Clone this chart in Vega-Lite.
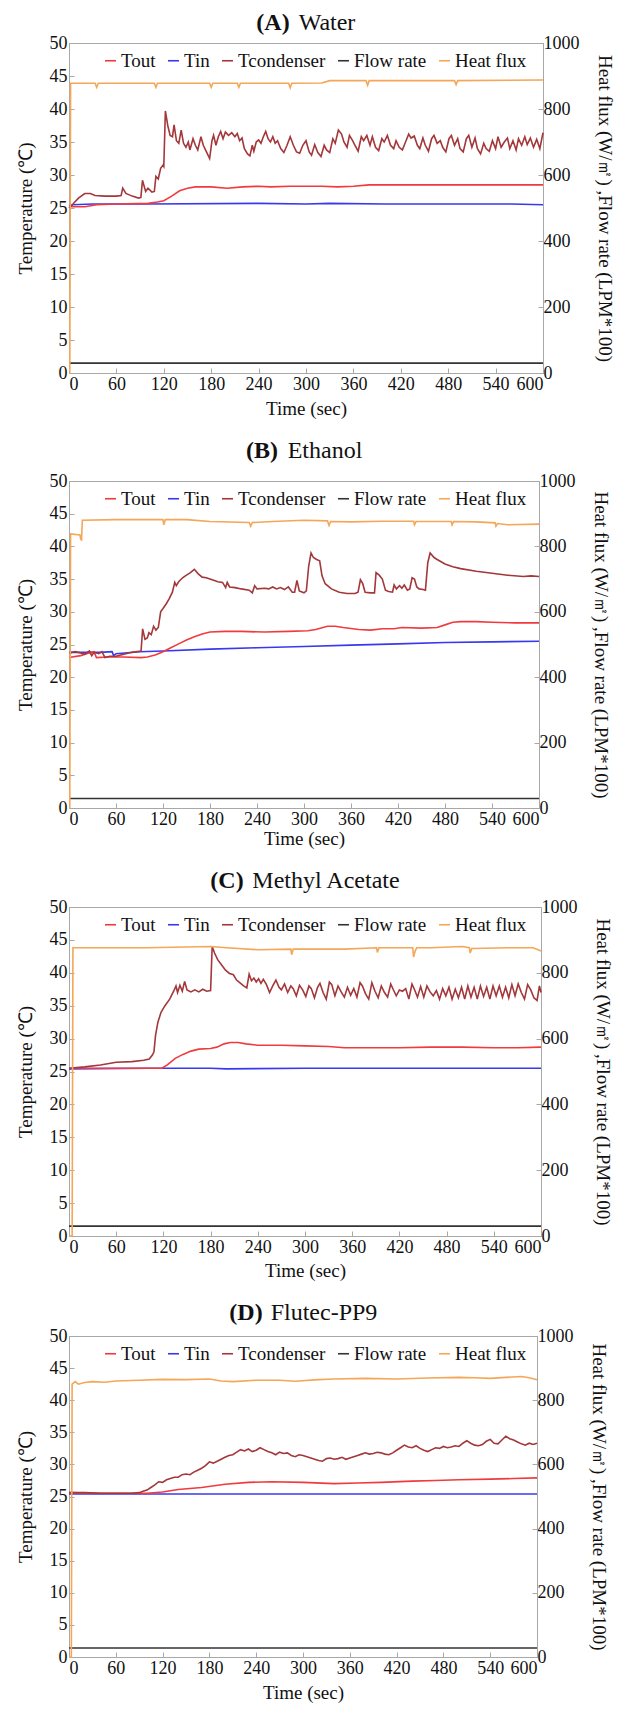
{
"$schema":"https://vega.github.io/schema/vega-lite/v6.json",
"padding":{"left":15,"top":10,"right":0,"bottom":0},
"spacing":19,
"config":{
 "font":"Liberation Serif, Times New Roman, serif",
 "view":{"stroke":"#a8a8a8"},
 "axis":{"grid":false,"domainColor":"#a8a8a8","tickColor":"#a8a8a8","tickSize":-5,"labelFont":"Liberation Serif, Times New Roman, serif","labelFontSize":18,"labelColor":"#111","titleFont":"Liberation Serif, Times New Roman, serif","titleFontSize":19,"titleFontWeight":"normal","titleColor":"#111","labelPadding":7},
 "legend":{"orient":"none","legendX":32,"legendY":8,"direction":"horizontal","title":null,"symbolType":"stroke","symbolStrokeWidth":2,"symbolSize":121,"labelFont":"Liberation Serif, Times New Roman, serif","labelFontSize":19,"labelColor":"#111","columnPadding":8,"labelOffset":1},
 "title":{"font":"Liberation Serif, Times New Roman, serif","fontSize":24,"fontWeight":"bold","color":"#111","subtitleFont":"Liberation Serif, Times New Roman, serif","subtitleFontSize":24,"subtitleFontWeight":"normal","subtitleColor":"#111","subtitlePadding":-24,"frame":"group"},
 "line":{"strokeWidth":1.6}
},
"resolve":{"scale":{"color":"independent"}},
"datasets":{
"A":[
{"t":0,"s":"Tin","v":25.3},{"t":5,"s":"Tin","v":25.5},{"t":30,"s":"Tin","v":25.6},{"t":100,"s":"Tin","v":25.6},{"t":240,"s":"Tin","v":25.7},{"t":300,"s":"Tin","v":25.6},{"t":330,"s":"Tin","v":25.7},{"t":400,"s":"Tin","v":25.6},{"t":560,"s":"Tin","v":25.6},{"t":600,"s":"Tin","v":25.5},
{"t":0,"s":"Tout","v":25.2},{"t":20,"s":"Tout","v":25.2},{"t":35,"s":"Tout","v":25.5},{"t":60,"s":"Tout","v":25.6},{"t":100,"s":"Tout","v":25.7},{"t":112,"s":"Tout","v":25.9},{"t":120,"s":"Tout","v":26.1},{"t":130,"s":"Tout","v":26.8},{"t":140,"s":"Tout","v":27.6},{"t":150,"s":"Tout","v":28.0},{"t":160,"s":"Tout","v":28.2},{"t":180,"s":"Tout","v":28.2},{"t":200,"s":"Tout","v":28.0},{"t":220,"s":"Tout","v":28.2},{"t":240,"s":"Tout","v":28.3},{"t":255,"s":"Tout","v":28.2},{"t":280,"s":"Tout","v":28.3},{"t":320,"s":"Tout","v":28.3},{"t":340,"s":"Tout","v":28.2},{"t":360,"s":"Tout","v":28.3},{"t":380,"s":"Tout","v":28.5},{"t":440,"s":"Tout","v":28.5},{"t":500,"s":"Tout","v":28.5},{"t":560,"s":"Tout","v":28.5},{"t":600,"s":"Tout","v":28.5},
{"t":0,"s":"Tcondenser","v":25.0},{"t":5,"s":"Tcondenser","v":25.6},{"t":12,"s":"Tcondenser","v":26.5},{"t":20,"s":"Tcondenser","v":27.2},{"t":27,"s":"Tcondenser","v":27.2},{"t":33,"s":"Tcondenser","v":26.9},{"t":45,"s":"Tcondenser","v":26.8},{"t":60,"s":"Tcondenser","v":26.8},{"t":66,"s":"Tcondenser","v":26.9},{"t":68,"s":"Tcondenser","v":28.0},{"t":72,"s":"Tcondenser","v":27.2},{"t":80,"s":"Tcondenser","v":26.8},{"t":88,"s":"Tcondenser","v":26.5},{"t":91,"s":"Tcondenser","v":26.6},{"t":93,"s":"Tcondenser","v":29.2},{"t":97,"s":"Tcondenser","v":27.5},{"t":100,"s":"Tcondenser","v":28.0},{"t":105,"s":"Tcondenser","v":27.4},{"t":108,"s":"Tcondenser","v":27.5},{"t":110,"s":"Tcondenser","v":29.8},{"t":113,"s":"Tcondenser","v":29.4},{"t":116,"s":"Tcondenser","v":31.0},{"t":119,"s":"Tcondenser","v":31.5},{"t":120,"s":"Tcondenser","v":31.3},{"t":122,"s":"Tcondenser","v":39.7},{"t":125,"s":"Tcondenser","v":37.5},{"t":128,"s":"Tcondenser","v":36.0},{"t":131,"s":"Tcondenser","v":35.8},{"t":133,"s":"Tcondenser","v":37.6},{"t":136,"s":"Tcondenser","v":35.2},{"t":139,"s":"Tcondenser","v":34.8},{"t":142,"s":"Tcondenser","v":36.8},{"t":145,"s":"Tcondenser","v":34.8},{"t":148,"s":"Tcondenser","v":34.2},{"t":151,"s":"Tcondenser","v":35.0},{"t":153,"s":"Tcondenser","v":33.8},{"t":157,"s":"Tcondenser","v":35.5},{"t":160,"s":"Tcondenser","v":34.5},{"t":163,"s":"Tcondenser","v":33.8},{"t":167,"s":"Tcondenser","v":35.8},{"t":170,"s":"Tcondenser","v":34.5},{"t":174,"s":"Tcondenser","v":33.5},{"t":178,"s":"Tcondenser","v":32.5},{"t":181,"s":"Tcondenser","v":35.2},{"t":183,"s":"Tcondenser","v":36.0},{"t":186,"s":"Tcondenser","v":34.5},{"t":189,"s":"Tcondenser","v":35.8},{"t":192,"s":"Tcondenser","v":36.6},{"t":195,"s":"Tcondenser","v":35.5},{"t":198,"s":"Tcondenser","v":36.5},{"t":202,"s":"Tcondenser","v":36.0},{"t":206,"s":"Tcondenser","v":36.4},{"t":210,"s":"Tcondenser","v":35.8},{"t":213,"s":"Tcondenser","v":36.3},{"t":216,"s":"Tcondenser","v":35.2},{"t":219,"s":"Tcondenser","v":35.6},{"t":222,"s":"Tcondenser","v":34.0},{"t":226,"s":"Tcondenser","v":33.2},{"t":229,"s":"Tcondenser","v":32.9},{"t":232,"s":"Tcondenser","v":34.5},{"t":234,"s":"Tcondenser","v":33.6},{"t":237,"s":"Tcondenser","v":35.0},{"t":240,"s":"Tcondenser","v":35.3},{"t":243,"s":"Tcondenser","v":34.8},{"t":246,"s":"Tcondenser","v":35.8},{"t":249,"s":"Tcondenser","v":36.6},{"t":252,"s":"Tcondenser","v":35.5},{"t":255,"s":"Tcondenser","v":35.0},{"t":258,"s":"Tcondenser","v":35.8},{"t":261,"s":"Tcondenser","v":34.8},{"t":264,"s":"Tcondenser","v":35.2},{"t":268,"s":"Tcondenser","v":34.0},{"t":272,"s":"Tcondenser","v":33.4},{"t":276,"s":"Tcondenser","v":34.5},{"t":280,"s":"Tcondenser","v":35.8},{"t":284,"s":"Tcondenser","v":34.5},{"t":288,"s":"Tcondenser","v":33.5},{"t":292,"s":"Tcondenser","v":33.3},{"t":296,"s":"Tcondenser","v":34.5},{"t":300,"s":"Tcondenser","v":35.2},{"t":304,"s":"Tcondenser","v":33.5},{"t":307,"s":"Tcondenser","v":33.0},{"t":311,"s":"Tcondenser","v":34.6},{"t":315,"s":"Tcondenser","v":33.4},{"t":319,"s":"Tcondenser","v":32.8},{"t":323,"s":"Tcondenser","v":34.5},{"t":326,"s":"Tcondenser","v":33.8},{"t":330,"s":"Tcondenser","v":33.4},{"t":334,"s":"Tcondenser","v":35.5},{"t":337,"s":"Tcondenser","v":34.8},{"t":341,"s":"Tcondenser","v":36.8},{"t":345,"s":"Tcondenser","v":36.2},{"t":348,"s":"Tcondenser","v":35.0},{"t":352,"s":"Tcondenser","v":34.2},{"t":355,"s":"Tcondenser","v":36.0},{"t":359,"s":"Tcondenser","v":35.2},{"t":362,"s":"Tcondenser","v":34.5},{"t":366,"s":"Tcondenser","v":33.6},{"t":370,"s":"Tcondenser","v":35.8},{"t":373,"s":"Tcondenser","v":35.2},{"t":377,"s":"Tcondenser","v":36.0},{"t":381,"s":"Tcondenser","v":34.5},{"t":384,"s":"Tcondenser","v":35.8},{"t":388,"s":"Tcondenser","v":34.2},{"t":392,"s":"Tcondenser","v":33.7},{"t":396,"s":"Tcondenser","v":35.5},{"t":399,"s":"Tcondenser","v":35.0},{"t":403,"s":"Tcondenser","v":36.0},{"t":407,"s":"Tcondenser","v":34.5},{"t":411,"s":"Tcondenser","v":34.0},{"t":414,"s":"Tcondenser","v":35.2},{"t":418,"s":"Tcondenser","v":34.2},{"t":422,"s":"Tcondenser","v":33.8},{"t":426,"s":"Tcondenser","v":35.0},{"t":430,"s":"Tcondenser","v":36.2},{"t":433,"s":"Tcondenser","v":35.6},{"t":437,"s":"Tcondenser","v":35.9},{"t":441,"s":"Tcondenser","v":34.5},{"t":444,"s":"Tcondenser","v":34.0},{"t":448,"s":"Tcondenser","v":35.6},{"t":451,"s":"Tcondenser","v":34.5},{"t":455,"s":"Tcondenser","v":33.6},{"t":459,"s":"Tcondenser","v":35.5},{"t":462,"s":"Tcondenser","v":36.0},{"t":466,"s":"Tcondenser","v":34.8},{"t":470,"s":"Tcondenser","v":35.2},{"t":473,"s":"Tcondenser","v":34.2},{"t":477,"s":"Tcondenser","v":33.5},{"t":481,"s":"Tcondenser","v":35.5},{"t":484,"s":"Tcondenser","v":36.0},{"t":488,"s":"Tcondenser","v":34.5},{"t":492,"s":"Tcondenser","v":35.5},{"t":495,"s":"Tcondenser","v":34.0},{"t":499,"s":"Tcondenser","v":33.5},{"t":503,"s":"Tcondenser","v":35.5},{"t":506,"s":"Tcondenser","v":36.0},{"t":510,"s":"Tcondenser","v":34.2},{"t":514,"s":"Tcondenser","v":35.6},{"t":517,"s":"Tcondenser","v":34.0},{"t":521,"s":"Tcondenser","v":33.2},{"t":525,"s":"Tcondenser","v":34.8},{"t":528,"s":"Tcondenser","v":34.0},{"t":532,"s":"Tcondenser","v":33.6},{"t":536,"s":"Tcondenser","v":35.2},{"t":540,"s":"Tcondenser","v":34.0},{"t":543,"s":"Tcondenser","v":35.8},{"t":547,"s":"Tcondenser","v":34.2},{"t":551,"s":"Tcondenser","v":35.0},{"t":555,"s":"Tcondenser","v":35.6},{"t":558,"s":"Tcondenser","v":34.0},{"t":562,"s":"Tcondenser","v":35.2},{"t":566,"s":"Tcondenser","v":33.8},{"t":569,"s":"Tcondenser","v":35.5},{"t":573,"s":"Tcondenser","v":34.5},{"t":577,"s":"Tcondenser","v":35.8},{"t":580,"s":"Tcondenser","v":34.6},{"t":584,"s":"Tcondenser","v":35.6},{"t":588,"s":"Tcondenser","v":34.2},{"t":592,"s":"Tcondenser","v":35.4},{"t":596,"s":"Tcondenser","v":34.0},{"t":600,"s":"Tcondenser","v":36.4},
{"t":0,"s":"Flow rate","v":30},{"t":300,"s":"Flow rate","v":30},{"t":600,"s":"Flow rate","v":30},
{"t":0,"s":"Heat flux","v":0},{"t":1,"s":"Heat flux","v":0},{"t":2,"s":"Heat flux","v":878},{"t":33,"s":"Heat flux","v":878},{"t":35,"s":"Heat flux","v":866},{"t":37,"s":"Heat flux","v":878},{"t":108,"s":"Heat flux","v":878},{"t":110,"s":"Heat flux","v":866},{"t":112,"s":"Heat flux","v":878},{"t":178,"s":"Heat flux","v":878},{"t":180,"s":"Heat flux","v":866},{"t":182,"s":"Heat flux","v":878},{"t":213,"s":"Heat flux","v":878},{"t":215,"s":"Heat flux","v":866},{"t":217,"s":"Heat flux","v":878},{"t":278,"s":"Heat flux","v":878},{"t":280,"s":"Heat flux","v":864},{"t":282,"s":"Heat flux","v":878},{"t":320,"s":"Heat flux","v":879},{"t":330,"s":"Heat flux","v":886},{"t":376,"s":"Heat flux","v":886},{"t":378,"s":"Heat flux","v":872},{"t":380,"s":"Heat flux","v":886},{"t":488,"s":"Heat flux","v":886},{"t":490,"s":"Heat flux","v":874},{"t":492,"s":"Heat flux","v":886},{"t":600,"s":"Heat flux","v":888}
],
"B":[
{"t":0,"s":"Tin","v":23.8},{"t":40,"s":"Tin","v":23.8},{"t":55,"s":"Tin","v":23.9},{"t":57,"s":"Tin","v":23.3},{"t":60,"s":"Tin","v":23.6},{"t":90,"s":"Tin","v":23.9},{"t":120,"s":"Tin","v":24.0},{"t":180,"s":"Tin","v":24.3},{"t":240,"s":"Tin","v":24.5},{"t":300,"s":"Tin","v":24.7},{"t":360,"s":"Tin","v":24.9},{"t":420,"s":"Tin","v":25.1},{"t":480,"s":"Tin","v":25.3},{"t":540,"s":"Tin","v":25.4},{"t":600,"s":"Tin","v":25.5},
{"t":0,"s":"Tout","v":23.0},{"t":15,"s":"Tout","v":23.3},{"t":28,"s":"Tout","v":23.8},{"t":32,"s":"Tout","v":23.9},{"t":35,"s":"Tout","v":23.0},{"t":50,"s":"Tout","v":23.1},{"t":70,"s":"Tout","v":23.1},{"t":92,"s":"Tout","v":23.0},{"t":100,"s":"Tout","v":23.1},{"t":110,"s":"Tout","v":23.4},{"t":120,"s":"Tout","v":23.9},{"t":130,"s":"Tout","v":24.5},{"t":140,"s":"Tout","v":25.1},{"t":150,"s":"Tout","v":25.7},{"t":160,"s":"Tout","v":26.2},{"t":170,"s":"Tout","v":26.6},{"t":180,"s":"Tout","v":26.9},{"t":200,"s":"Tout","v":27.0},{"t":220,"s":"Tout","v":27.0},{"t":250,"s":"Tout","v":26.9},{"t":280,"s":"Tout","v":27.0},{"t":305,"s":"Tout","v":27.1},{"t":315,"s":"Tout","v":27.3},{"t":330,"s":"Tout","v":27.8},{"t":340,"s":"Tout","v":27.8},{"t":350,"s":"Tout","v":27.6},{"t":370,"s":"Tout","v":27.3},{"t":385,"s":"Tout","v":27.2},{"t":400,"s":"Tout","v":27.4},{"t":415,"s":"Tout","v":27.4},{"t":425,"s":"Tout","v":27.6},{"t":450,"s":"Tout","v":27.5},{"t":470,"s":"Tout","v":27.6},{"t":480,"s":"Tout","v":28.0},{"t":490,"s":"Tout","v":28.4},{"t":500,"s":"Tout","v":28.5},{"t":520,"s":"Tout","v":28.5},{"t":540,"s":"Tout","v":28.4},{"t":570,"s":"Tout","v":28.3},{"t":600,"s":"Tout","v":28.3},
{"t":0,"s":"Tcondenser","v":23.7},{"t":8,"s":"Tcondenser","v":23.9},{"t":15,"s":"Tcondenser","v":23.7},{"t":20,"s":"Tcondenser","v":23.5},{"t":26,"s":"Tcondenser","v":24.0},{"t":29,"s":"Tcondenser","v":23.3},{"t":32,"s":"Tcondenser","v":23.8},{"t":38,"s":"Tcondenser","v":23.6},{"t":42,"s":"Tcondenser","v":23.9},{"t":46,"s":"Tcondenser","v":23.0},{"t":52,"s":"Tcondenser","v":23.2},{"t":60,"s":"Tcondenser","v":23.2},{"t":70,"s":"Tcondenser","v":23.5},{"t":80,"s":"Tcondenser","v":23.8},{"t":92,"s":"Tcondenser","v":24.0},{"t":94,"s":"Tcondenser","v":27.4},{"t":97,"s":"Tcondenser","v":25.8},{"t":100,"s":"Tcondenser","v":26.0},{"t":102,"s":"Tcondenser","v":26.8},{"t":105,"s":"Tcondenser","v":26.5},{"t":108,"s":"Tcondenser","v":27.8},{"t":111,"s":"Tcondenser","v":27.2},{"t":114,"s":"Tcondenser","v":27.6},{"t":117,"s":"Tcondenser","v":30.0},{"t":120,"s":"Tcondenser","v":30.5},{"t":124,"s":"Tcondenser","v":31.2},{"t":128,"s":"Tcondenser","v":32.0},{"t":132,"s":"Tcondenser","v":33.0},{"t":135,"s":"Tcondenser","v":34.5},{"t":137,"s":"Tcondenser","v":34.0},{"t":140,"s":"Tcondenser","v":34.6},{"t":145,"s":"Tcondenser","v":35.2},{"t":150,"s":"Tcondenser","v":35.6},{"t":155,"s":"Tcondenser","v":36.0},{"t":160,"s":"Tcondenser","v":36.5},{"t":165,"s":"Tcondenser","v":35.8},{"t":170,"s":"Tcondenser","v":35.3},{"t":175,"s":"Tcondenser","v":35.2},{"t":180,"s":"Tcondenser","v":35.0},{"t":190,"s":"Tcondenser","v":34.6},{"t":196,"s":"Tcondenser","v":34.5},{"t":200,"s":"Tcondenser","v":33.7},{"t":202,"s":"Tcondenser","v":34.5},{"t":205,"s":"Tcondenser","v":33.8},{"t":212,"s":"Tcondenser","v":33.7},{"t":220,"s":"Tcondenser","v":33.5},{"t":230,"s":"Tcondenser","v":33.3},{"t":234,"s":"Tcondenser","v":32.9},{"t":237,"s":"Tcondenser","v":34.0},{"t":240,"s":"Tcondenser","v":33.5},{"t":250,"s":"Tcondenser","v":33.6},{"t":255,"s":"Tcondenser","v":33.5},{"t":260,"s":"Tcondenser","v":33.8},{"t":265,"s":"Tcondenser","v":33.5},{"t":270,"s":"Tcondenser","v":33.7},{"t":275,"s":"Tcondenser","v":33.4},{"t":280,"s":"Tcondenser","v":33.8},{"t":285,"s":"Tcondenser","v":33.0},{"t":288,"s":"Tcondenser","v":33.0},{"t":291,"s":"Tcondenser","v":34.8},{"t":294,"s":"Tcondenser","v":33.2},{"t":300,"s":"Tcondenser","v":32.9},{"t":303,"s":"Tcondenser","v":33.2},{"t":306,"s":"Tcondenser","v":37.0},{"t":309,"s":"Tcondenser","v":39.0},{"t":312,"s":"Tcondenser","v":38.3},{"t":316,"s":"Tcondenser","v":38.0},{"t":320,"s":"Tcondenser","v":37.8},{"t":323,"s":"Tcondenser","v":35.5},{"t":327,"s":"Tcondenser","v":34.3},{"t":335,"s":"Tcondenser","v":33.5},{"t":345,"s":"Tcondenser","v":33.0},{"t":355,"s":"Tcondenser","v":32.8},{"t":365,"s":"Tcondenser","v":32.8},{"t":369,"s":"Tcondenser","v":33.0},{"t":372,"s":"Tcondenser","v":34.9},{"t":375,"s":"Tcondenser","v":34.3},{"t":378,"s":"Tcondenser","v":33.0},{"t":385,"s":"Tcondenser","v":32.9},{"t":390,"s":"Tcondenser","v":32.9},{"t":392,"s":"Tcondenser","v":36.0},{"t":396,"s":"Tcondenser","v":35.6},{"t":400,"s":"Tcondenser","v":35.0},{"t":404,"s":"Tcondenser","v":33.3},{"t":408,"s":"Tcondenser","v":33.1},{"t":413,"s":"Tcondenser","v":33.0},{"t":415,"s":"Tcondenser","v":34.1},{"t":418,"s":"Tcondenser","v":33.5},{"t":422,"s":"Tcondenser","v":34.0},{"t":425,"s":"Tcondenser","v":33.6},{"t":428,"s":"Tcondenser","v":34.1},{"t":432,"s":"Tcondenser","v":33.3},{"t":435,"s":"Tcondenser","v":33.5},{"t":438,"s":"Tcondenser","v":35.2},{"t":441,"s":"Tcondenser","v":35.0},{"t":444,"s":"Tcondenser","v":33.8},{"t":447,"s":"Tcondenser","v":33.5},{"t":452,"s":"Tcondenser","v":33.4},{"t":455,"s":"Tcondenser","v":33.3},{"t":458,"s":"Tcondenser","v":37.5},{"t":461,"s":"Tcondenser","v":39.0},{"t":466,"s":"Tcondenser","v":38.3},{"t":470,"s":"Tcondenser","v":38.0},{"t":480,"s":"Tcondenser","v":37.3},{"t":490,"s":"Tcondenser","v":36.9},{"t":500,"s":"Tcondenser","v":36.6},{"t":520,"s":"Tcondenser","v":36.2},{"t":540,"s":"Tcondenser","v":35.9},{"t":560,"s":"Tcondenser","v":35.6},{"t":580,"s":"Tcondenser","v":35.4},{"t":590,"s":"Tcondenser","v":35.5},{"t":600,"s":"Tcondenser","v":35.4},
{"t":0,"s":"Flow rate","v":29},{"t":300,"s":"Flow rate","v":29},{"t":600,"s":"Flow rate","v":29},
{"t":0,"s":"Heat flux","v":0},{"t":1,"s":"Heat flux","v":0},{"t":2,"s":"Heat flux","v":838},{"t":14,"s":"Heat flux","v":835},{"t":15,"s":"Heat flux","v":822},{"t":16,"s":"Heat flux","v":820},{"t":17,"s":"Heat flux","v":880},{"t":60,"s":"Heat flux","v":882},{"t":120,"s":"Heat flux","v":882},{"t":121,"s":"Heat flux","v":866},{"t":123,"s":"Heat flux","v":882},{"t":150,"s":"Heat flux","v":882},{"t":180,"s":"Heat flux","v":876},{"t":230,"s":"Heat flux","v":873},{"t":232,"s":"Heat flux","v":862},{"t":234,"s":"Heat flux","v":873},{"t":260,"s":"Heat flux","v":876},{"t":300,"s":"Heat flux","v":880},{"t":330,"s":"Heat flux","v":878},{"t":332,"s":"Heat flux","v":864},{"t":334,"s":"Heat flux","v":876},{"t":360,"s":"Heat flux","v":875},{"t":400,"s":"Heat flux","v":877},{"t":440,"s":"Heat flux","v":877},{"t":441,"s":"Heat flux","v":866},{"t":443,"s":"Heat flux","v":876},{"t":488,"s":"Heat flux","v":876},{"t":489,"s":"Heat flux","v":866},{"t":491,"s":"Heat flux","v":876},{"t":520,"s":"Heat flux","v":875},{"t":544,"s":"Heat flux","v":872},{"t":545,"s":"Heat flux","v":862},{"t":547,"s":"Heat flux","v":870},{"t":560,"s":"Heat flux","v":866},{"t":600,"s":"Heat flux","v":868}
],
"C":[
{"t":0,"s":"Tin","v":25.4},{"t":100,"s":"Tin","v":25.5},{"t":180,"s":"Tin","v":25.5},{"t":200,"s":"Tin","v":25.4},{"t":300,"s":"Tin","v":25.5},{"t":600,"s":"Tin","v":25.5},
{"t":0,"s":"Tout","v":25.5},{"t":118,"s":"Tout","v":25.5},{"t":125,"s":"Tout","v":26.0},{"t":135,"s":"Tout","v":27.0},{"t":145,"s":"Tout","v":27.6},{"t":155,"s":"Tout","v":28.1},{"t":165,"s":"Tout","v":28.4},{"t":180,"s":"Tout","v":28.5},{"t":188,"s":"Tout","v":28.7},{"t":197,"s":"Tout","v":29.2},{"t":205,"s":"Tout","v":29.4},{"t":215,"s":"Tout","v":29.4},{"t":225,"s":"Tout","v":29.2},{"t":240,"s":"Tout","v":29.0},{"t":270,"s":"Tout","v":29.0},{"t":300,"s":"Tout","v":28.9},{"t":330,"s":"Tout","v":28.8},{"t":350,"s":"Tout","v":28.6},{"t":380,"s":"Tout","v":28.6},{"t":420,"s":"Tout","v":28.6},{"t":460,"s":"Tout","v":28.7},{"t":500,"s":"Tout","v":28.7},{"t":540,"s":"Tout","v":28.6},{"t":570,"s":"Tout","v":28.6},{"t":600,"s":"Tout","v":28.7},
{"t":0,"s":"Tcondenser","v":25.5},{"t":20,"s":"Tcondenser","v":25.7},{"t":40,"s":"Tcondenser","v":26.0},{"t":60,"s":"Tcondenser","v":26.4},{"t":80,"s":"Tcondenser","v":26.5},{"t":95,"s":"Tcondenser","v":26.7},{"t":102,"s":"Tcondenser","v":26.9},{"t":106,"s":"Tcondenser","v":27.5},{"t":108,"s":"Tcondenser","v":28.0},{"t":110,"s":"Tcondenser","v":30.5},{"t":113,"s":"Tcondenser","v":32.5},{"t":117,"s":"Tcondenser","v":34.0},{"t":122,"s":"Tcondenser","v":35.0},{"t":128,"s":"Tcondenser","v":36.0},{"t":133,"s":"Tcondenser","v":37.2},{"t":136,"s":"Tcondenser","v":38.0},{"t":138,"s":"Tcondenser","v":37.0},{"t":141,"s":"Tcondenser","v":38.1},{"t":144,"s":"Tcondenser","v":37.2},{"t":147,"s":"Tcondenser","v":38.7},{"t":150,"s":"Tcondenser","v":37.4},{"t":155,"s":"Tcondenser","v":37.1},{"t":160,"s":"Tcondenser","v":37.4},{"t":165,"s":"Tcondenser","v":37.1},{"t":170,"s":"Tcondenser","v":37.5},{"t":175,"s":"Tcondenser","v":37.2},{"t":180,"s":"Tcondenser","v":37.3},{"t":182,"s":"Tcondenser","v":44.0},{"t":185,"s":"Tcondenser","v":43.0},{"t":189,"s":"Tcondenser","v":42.0},{"t":194,"s":"Tcondenser","v":41.2},{"t":199,"s":"Tcondenser","v":40.4},{"t":204,"s":"Tcondenser","v":39.9},{"t":209,"s":"Tcondenser","v":39.7},{"t":213,"s":"Tcondenser","v":38.9},{"t":217,"s":"Tcondenser","v":38.5},{"t":222,"s":"Tcondenser","v":38.0},{"t":226,"s":"Tcondenser","v":37.7},{"t":229,"s":"Tcondenser","v":39.8},{"t":232,"s":"Tcondenser","v":38.8},{"t":235,"s":"Tcondenser","v":39.2},{"t":238,"s":"Tcondenser","v":38.6},{"t":241,"s":"Tcondenser","v":39.1},{"t":244,"s":"Tcondenser","v":38.4},{"t":247,"s":"Tcondenser","v":39.0},{"t":251,"s":"Tcondenser","v":38.2},{"t":255,"s":"Tcondenser","v":37.0},{"t":259,"s":"Tcondenser","v":38.0},{"t":263,"s":"Tcondenser","v":38.9},{"t":267,"s":"Tcondenser","v":37.8},{"t":270,"s":"Tcondenser","v":37.4},{"t":274,"s":"Tcondenser","v":38.3},{"t":278,"s":"Tcondenser","v":37.0},{"t":282,"s":"Tcondenser","v":38.0},{"t":285,"s":"Tcondenser","v":37.6},{"t":289,"s":"Tcondenser","v":36.5},{"t":293,"s":"Tcondenser","v":38.1},{"t":297,"s":"Tcondenser","v":37.4},{"t":301,"s":"Tcondenser","v":36.4},{"t":305,"s":"Tcondenser","v":38.0},{"t":308,"s":"Tcondenser","v":37.6},{"t":312,"s":"Tcondenser","v":36.2},{"t":316,"s":"Tcondenser","v":37.8},{"t":319,"s":"Tcondenser","v":38.4},{"t":323,"s":"Tcondenser","v":37.0},{"t":327,"s":"Tcondenser","v":36.0},{"t":331,"s":"Tcondenser","v":38.6},{"t":334,"s":"Tcondenser","v":38.2},{"t":338,"s":"Tcondenser","v":36.5},{"t":342,"s":"Tcondenser","v":38.0},{"t":346,"s":"Tcondenser","v":37.1},{"t":350,"s":"Tcondenser","v":36.3},{"t":354,"s":"Tcondenser","v":37.8},{"t":358,"s":"Tcondenser","v":36.6},{"t":362,"s":"Tcondenser","v":37.6},{"t":366,"s":"Tcondenser","v":36.3},{"t":370,"s":"Tcondenser","v":38.5},{"t":373,"s":"Tcondenser","v":38.0},{"t":377,"s":"Tcondenser","v":36.8},{"t":381,"s":"Tcondenser","v":36.0},{"t":385,"s":"Tcondenser","v":38.5},{"t":389,"s":"Tcondenser","v":37.2},{"t":393,"s":"Tcondenser","v":36.2},{"t":397,"s":"Tcondenser","v":38.0},{"t":401,"s":"Tcondenser","v":37.0},{"t":405,"s":"Tcondenser","v":36.3},{"t":409,"s":"Tcondenser","v":38.3},{"t":412,"s":"Tcondenser","v":37.5},{"t":416,"s":"Tcondenser","v":36.5},{"t":420,"s":"Tcondenser","v":37.4},{"t":424,"s":"Tcondenser","v":37.2},{"t":428,"s":"Tcondenser","v":37.6},{"t":432,"s":"Tcondenser","v":36.0},{"t":436,"s":"Tcondenser","v":38.3},{"t":439,"s":"Tcondenser","v":37.5},{"t":443,"s":"Tcondenser","v":36.3},{"t":447,"s":"Tcondenser","v":37.9},{"t":451,"s":"Tcondenser","v":36.3},{"t":455,"s":"Tcondenser","v":38.0},{"t":459,"s":"Tcondenser","v":37.1},{"t":463,"s":"Tcondenser","v":36.5},{"t":467,"s":"Tcondenser","v":37.3},{"t":471,"s":"Tcondenser","v":36.0},{"t":475,"s":"Tcondenser","v":37.6},{"t":479,"s":"Tcondenser","v":36.5},{"t":483,"s":"Tcondenser","v":37.8},{"t":487,"s":"Tcondenser","v":36.0},{"t":491,"s":"Tcondenser","v":37.5},{"t":495,"s":"Tcondenser","v":36.2},{"t":499,"s":"Tcondenser","v":37.8},{"t":503,"s":"Tcondenser","v":36.0},{"t":507,"s":"Tcondenser","v":38.0},{"t":511,"s":"Tcondenser","v":36.3},{"t":515,"s":"Tcondenser","v":37.8},{"t":519,"s":"Tcondenser","v":36.0},{"t":523,"s":"Tcondenser","v":38.0},{"t":527,"s":"Tcondenser","v":36.4},{"t":531,"s":"Tcondenser","v":37.8},{"t":535,"s":"Tcondenser","v":36.0},{"t":539,"s":"Tcondenser","v":38.0},{"t":543,"s":"Tcondenser","v":36.5},{"t":547,"s":"Tcondenser","v":38.0},{"t":551,"s":"Tcondenser","v":36.3},{"t":555,"s":"Tcondenser","v":37.8},{"t":559,"s":"Tcondenser","v":36.2},{"t":563,"s":"Tcondenser","v":38.2},{"t":567,"s":"Tcondenser","v":36.5},{"t":571,"s":"Tcondenser","v":38.3},{"t":575,"s":"Tcondenser","v":37.0},{"t":579,"s":"Tcondenser","v":36.0},{"t":583,"s":"Tcondenser","v":38.2},{"t":587,"s":"Tcondenser","v":37.4},{"t":591,"s":"Tcondenser","v":36.2},{"t":595,"s":"Tcondenser","v":35.8},{"t":598,"s":"Tcondenser","v":38.0},{"t":600,"s":"Tcondenser","v":37.0},
{"t":0,"s":"Flow rate","v":30},{"t":300,"s":"Flow rate","v":30},{"t":600,"s":"Flow rate","v":30},
{"t":0,"s":"Heat flux","v":0},{"t":4,"s":"Heat flux","v":0},{"t":5,"s":"Heat flux","v":876},{"t":100,"s":"Heat flux","v":876},{"t":180,"s":"Heat flux","v":880},{"t":200,"s":"Heat flux","v":876},{"t":240,"s":"Heat flux","v":870},{"t":282,"s":"Heat flux","v":872},{"t":283,"s":"Heat flux","v":855},{"t":285,"s":"Heat flux","v":872},{"t":350,"s":"Heat flux","v":872},{"t":391,"s":"Heat flux","v":876},{"t":392,"s":"Heat flux","v":862},{"t":394,"s":"Heat flux","v":876},{"t":437,"s":"Heat flux","v":876},{"t":438,"s":"Heat flux","v":848},{"t":440,"s":"Heat flux","v":866},{"t":442,"s":"Heat flux","v":876},{"t":460,"s":"Heat flux","v":876},{"t":500,"s":"Heat flux","v":880},{"t":509,"s":"Heat flux","v":876},{"t":510,"s":"Heat flux","v":860},{"t":512,"s":"Heat flux","v":874},{"t":560,"s":"Heat flux","v":876},{"t":590,"s":"Heat flux","v":876},{"t":600,"s":"Heat flux","v":866}
],
"D":[
{"t":0,"s":"Tin","v":25.4},{"t":300,"s":"Tin","v":25.4},{"t":600,"s":"Tin","v":25.4},
{"t":0,"s":"Tout","v":25.6},{"t":40,"s":"Tout","v":25.5},{"t":100,"s":"Tout","v":25.5},{"t":120,"s":"Tout","v":25.7},{"t":140,"s":"Tout","v":26.1},{"t":170,"s":"Tout","v":26.4},{"t":200,"s":"Tout","v":26.9},{"t":230,"s":"Tout","v":27.2},{"t":260,"s":"Tout","v":27.3},{"t":300,"s":"Tout","v":27.2},{"t":340,"s":"Tout","v":27.0},{"t":370,"s":"Tout","v":27.1},{"t":400,"s":"Tout","v":27.2},{"t":440,"s":"Tout","v":27.4},{"t":470,"s":"Tout","v":27.5},{"t":500,"s":"Tout","v":27.6},{"t":540,"s":"Tout","v":27.7},{"t":570,"s":"Tout","v":27.8},{"t":600,"s":"Tout","v":27.9},
{"t":0,"s":"Tcondenser","v":25.6},{"t":20,"s":"Tcondenser","v":25.6},{"t":40,"s":"Tcondenser","v":25.5},{"t":60,"s":"Tcondenser","v":25.5},{"t":80,"s":"Tcondenser","v":25.5},{"t":90,"s":"Tcondenser","v":25.6},{"t":95,"s":"Tcondenser","v":25.8},{"t":100,"s":"Tcondenser","v":26.0},{"t":105,"s":"Tcondenser","v":26.4},{"t":110,"s":"Tcondenser","v":26.8},{"t":115,"s":"Tcondenser","v":27.3},{"t":120,"s":"Tcondenser","v":27.2},{"t":125,"s":"Tcondenser","v":27.6},{"t":130,"s":"Tcondenser","v":27.8},{"t":135,"s":"Tcondenser","v":28.0},{"t":140,"s":"Tcondenser","v":28.0},{"t":145,"s":"Tcondenser","v":28.4},{"t":150,"s":"Tcondenser","v":28.5},{"t":155,"s":"Tcondenser","v":28.4},{"t":160,"s":"Tcondenser","v":28.8},{"t":165,"s":"Tcondenser","v":29.1},{"t":170,"s":"Tcondenser","v":29.4},{"t":175,"s":"Tcondenser","v":29.8},{"t":180,"s":"Tcondenser","v":30.4},{"t":185,"s":"Tcondenser","v":30.2},{"t":190,"s":"Tcondenser","v":30.5},{"t":195,"s":"Tcondenser","v":30.8},{"t":200,"s":"Tcondenser","v":31.1},{"t":205,"s":"Tcondenser","v":31.4},{"t":210,"s":"Tcondenser","v":31.5},{"t":215,"s":"Tcondenser","v":31.9},{"t":220,"s":"Tcondenser","v":32.3},{"t":225,"s":"Tcondenser","v":32.1},{"t":230,"s":"Tcondenser","v":32.4},{"t":235,"s":"Tcondenser","v":32.0},{"t":240,"s":"Tcondenser","v":32.2},{"t":245,"s":"Tcondenser","v":32.6},{"t":250,"s":"Tcondenser","v":32.3},{"t":255,"s":"Tcondenser","v":32.0},{"t":260,"s":"Tcondenser","v":31.8},{"t":265,"s":"Tcondenser","v":31.5},{"t":270,"s":"Tcondenser","v":31.9},{"t":275,"s":"Tcondenser","v":31.7},{"t":280,"s":"Tcondenser","v":31.8},{"t":285,"s":"Tcondenser","v":31.4},{"t":290,"s":"Tcondenser","v":31.2},{"t":295,"s":"Tcondenser","v":31.5},{"t":300,"s":"Tcondenser","v":31.4},{"t":305,"s":"Tcondenser","v":31.2},{"t":310,"s":"Tcondenser","v":31.0},{"t":315,"s":"Tcondenser","v":30.8},{"t":320,"s":"Tcondenser","v":30.6},{"t":325,"s":"Tcondenser","v":30.5},{"t":330,"s":"Tcondenser","v":30.9},{"t":335,"s":"Tcondenser","v":31.0},{"t":340,"s":"Tcondenser","v":30.8},{"t":345,"s":"Tcondenser","v":30.9},{"t":350,"s":"Tcondenser","v":31.1},{"t":355,"s":"Tcondenser","v":30.8},{"t":360,"s":"Tcondenser","v":31.0},{"t":365,"s":"Tcondenser","v":31.2},{"t":370,"s":"Tcondenser","v":31.4},{"t":375,"s":"Tcondenser","v":31.6},{"t":380,"s":"Tcondenser","v":31.8},{"t":385,"s":"Tcondenser","v":31.6},{"t":390,"s":"Tcondenser","v":31.7},{"t":395,"s":"Tcondenser","v":31.9},{"t":400,"s":"Tcondenser","v":31.8},{"t":405,"s":"Tcondenser","v":31.6},{"t":410,"s":"Tcondenser","v":31.5},{"t":415,"s":"Tcondenser","v":31.8},{"t":420,"s":"Tcondenser","v":32.2},{"t":425,"s":"Tcondenser","v":32.6},{"t":430,"s":"Tcondenser","v":33.0},{"t":435,"s":"Tcondenser","v":32.7},{"t":440,"s":"Tcondenser","v":32.6},{"t":445,"s":"Tcondenser","v":32.9},{"t":450,"s":"Tcondenser","v":32.5},{"t":455,"s":"Tcondenser","v":32.2},{"t":460,"s":"Tcondenser","v":32.0},{"t":465,"s":"Tcondenser","v":32.3},{"t":470,"s":"Tcondenser","v":32.6},{"t":475,"s":"Tcondenser","v":32.5},{"t":480,"s":"Tcondenser","v":32.8},{"t":485,"s":"Tcondenser","v":32.6},{"t":490,"s":"Tcondenser","v":32.7},{"t":495,"s":"Tcondenser","v":32.9},{"t":500,"s":"Tcondenser","v":32.8},{"t":505,"s":"Tcondenser","v":33.3},{"t":510,"s":"Tcondenser","v":33.7},{"t":515,"s":"Tcondenser","v":33.3},{"t":520,"s":"Tcondenser","v":33.0},{"t":525,"s":"Tcondenser","v":32.9},{"t":530,"s":"Tcondenser","v":33.1},{"t":535,"s":"Tcondenser","v":33.6},{"t":540,"s":"Tcondenser","v":33.9},{"t":545,"s":"Tcondenser","v":33.3},{"t":550,"s":"Tcondenser","v":33.2},{"t":555,"s":"Tcondenser","v":33.8},{"t":560,"s":"Tcondenser","v":34.4},{"t":565,"s":"Tcondenser","v":34.0},{"t":570,"s":"Tcondenser","v":33.8},{"t":575,"s":"Tcondenser","v":33.5},{"t":580,"s":"Tcondenser","v":33.2},{"t":585,"s":"Tcondenser","v":33.0},{"t":590,"s":"Tcondenser","v":33.3},{"t":595,"s":"Tcondenser","v":33.1},{"t":600,"s":"Tcondenser","v":33.3},
{"t":0,"s":"Flow rate","v":28},{"t":300,"s":"Flow rate","v":28},{"t":600,"s":"Flow rate","v":28},
{"t":0,"s":"Heat flux","v":0},{"t":3,"s":"Heat flux","v":0},{"t":4,"s":"Heat flux","v":850},{"t":8,"s":"Heat flux","v":858},{"t":12,"s":"Heat flux","v":850},{"t":20,"s":"Heat flux","v":855},{"t":30,"s":"Heat flux","v":858},{"t":45,"s":"Heat flux","v":856},{"t":60,"s":"Heat flux","v":860},{"t":90,"s":"Heat flux","v":862},{"t":120,"s":"Heat flux","v":865},{"t":150,"s":"Heat flux","v":864},{"t":180,"s":"Heat flux","v":866},{"t":195,"s":"Heat flux","v":860},{"t":210,"s":"Heat flux","v":858},{"t":240,"s":"Heat flux","v":862},{"t":270,"s":"Heat flux","v":862},{"t":290,"s":"Heat flux","v":859},{"t":320,"s":"Heat flux","v":864},{"t":340,"s":"Heat flux","v":866},{"t":380,"s":"Heat flux","v":868},{"t":420,"s":"Heat flux","v":866},{"t":460,"s":"Heat flux","v":869},{"t":500,"s":"Heat flux","v":871},{"t":520,"s":"Heat flux","v":870},{"t":540,"s":"Heat flux","v":868},{"t":580,"s":"Heat flux","v":874},{"t":590,"s":"Heat flux","v":870},{"t":600,"s":"Heat flux","v":864}
]
},
"vconcat":[
{"title":{"text":"(A)\u00a0\u00a0\u00a0\u00a0\u00a0\u00a0\u00a0\u00a0\u2800","subtitle":"\u2800\u00a0\u00a0\u00a0\u00a0Water","offset":-1},"width":474,"height":330,"data":{"name":"A"},
 "encoding":{"x":{"field":"t","type":"quantitative","scale":{"domain":[0,600],"nice":false},"axis":{"values":[0,60,120,180,240,300,360,420,480,540,600],"title":"Time (sec)","titlePadding":6}},
  "color":{"field":"s","type":"nominal","scale":{"domain":["Tout","Tin","Tcondenser","Flow rate","Heat flux"],"range":["#f23a3e","#3838f2","#a3373a","#333333","#f5a656"]}}},
 "layer":[
  {"transform":[{"filter":{"field":"s","oneOf":["Tout","Tin","Tcondenser"]}}],"mark":"line","encoding":{"y":{"field":"v","type":"quantitative","scale":{"domain":[0,50],"nice":false},"axis":{"values":[0,5,10,15,20,25,30,35,40,45,50],"title":"Temperature (℃)","orient":"left","titlePadding":14}}}},
  {"transform":[{"filter":{"field":"s","oneOf":["Flow rate","Heat flux"]}}],"mark":"line","encoding":{"y":{"field":"v","type":"quantitative","scale":{"domain":[0,1000],"nice":false},"axis":{"values":[0,200,400,600,800,1000],"format":"d","title":"Heat flux (W/㎡) ,Flow rate (LPM*100)","orient":"right","labelPadding":5,"titlePadding":15}}}}
 ],
 "resolve":{"scale":{"y":"independent"}}},
{"title":{"text":"(B)\u00a0\u00a0\u00a0\u00a0\u00a0\u00a0\u00a0\u00a0\u00a0\u00a0\u00a0\u2800","subtitle":"\u2800\u00a0\u00a0\u00a0\u00a0Ethanol","offset":9},"width":470,"height":327,"data":{"name":"B"},
 "encoding":{"x":{"field":"t","type":"quantitative","scale":{"domain":[0,600],"nice":false},"axis":{"values":[0,60,120,180,240,300,360,420,480,540,600],"title":"Time (sec)","titlePadding":1}},
  "color":{"field":"s","type":"nominal","scale":{"domain":["Tout","Tin","Tcondenser","Flow rate","Heat flux"],"range":["#f23a3e","#3838f2","#a3373a","#333333","#f5a656"]}}},
 "layer":[
  {"transform":[{"filter":{"field":"s","oneOf":["Tout","Tin","Tcondenser"]}}],"mark":"line","encoding":{"y":{"field":"v","type":"quantitative","scale":{"domain":[0,50],"nice":false},"axis":{"values":[0,5,10,15,20,25,30,35,40,45,50],"title":"Temperature (℃)","orient":"left","titlePadding":14}}}},
  {"transform":[{"filter":{"field":"s","oneOf":["Flow rate","Heat flux"]}}],"mark":"line","encoding":{"y":{"field":"v","type":"quantitative","scale":{"domain":[0,1000],"nice":false},"axis":{"values":[0,200,400,600,800,1000],"format":"d","title":"Heat flux (W/㎡) ,Flow rate (LPM*100)","orient":"right","labelPadding":5,"titlePadding":15}}}}
 ],
 "resolve":{"scale":{"y":"independent"}}},
{"title":{"text":"(C)\u00a0\u00a0\u00a0\u00a0\u00a0\u00a0\u00a0\u00a0\u00a0\u00a0\u00a0\u00a0\u00a0\u00a0\u00a0\u00a0\u00a0\u00a0\u00a0\u00a0\u00a0\u00a0\u00a0\u2800","subtitle":"\u2800\u00a0\u00a0\u00a0\u00a0Methyl Acetate","offset":5},"width":472,"height":329,"data":{"name":"C"},
 "encoding":{"x":{"field":"t","type":"quantitative","scale":{"domain":[0,600],"nice":false},"axis":{"values":[0,60,120,180,240,300,360,420,480,540,600],"title":"Time (sec)","titlePadding":5}},
  "color":{"field":"s","type":"nominal","scale":{"domain":["Tout","Tin","Tcondenser","Flow rate","Heat flux"],"range":["#f23a3e","#3838f2","#a3373a","#333333","#f5a656"]}}},
 "layer":[
  {"transform":[{"filter":{"field":"s","oneOf":["Tout","Tin","Tcondenser"]}}],"mark":"line","encoding":{"y":{"field":"v","type":"quantitative","scale":{"domain":[0,50],"nice":false},"axis":{"values":[0,5,10,15,20,25,30,35,40,45,50],"title":"Temperature (℃)","orient":"left","titlePadding":14}}}},
  {"transform":[{"filter":{"field":"s","oneOf":["Flow rate","Heat flux"]}}],"mark":"line","encoding":{"y":{"field":"v","type":"quantitative","scale":{"domain":[0,1000],"nice":false},"axis":{"values":[0,200,400,600,800,1000],"format":"d","title":"Heat flux (W/㎡) ,Flow rate (LPM*100)","orient":"right","labelPadding":5,"titlePadding":15}}}}
 ],
 "resolve":{"scale":{"y":"independent"}}},
{"title":{"text":"(D)\u00a0\u00a0\u00a0\u00a0\u00a0\u00a0\u00a0\u00a0\u00a0\u00a0\u00a0\u00a0\u00a0\u00a0\u00a0\u00a0\u2800","subtitle":"\u2800\u00a0\u00a0\u00a0\u00a0Flutec-PP9","offset":2},"width":468,"height":321,"data":{"name":"D"},
 "encoding":{"x":{"field":"t","type":"quantitative","scale":{"domain":[0,600],"nice":false},"axis":{"values":[0,60,120,180,240,300,360,420,480,540,600],"title":"Time (sec)","titlePadding":6}},
  "color":{"field":"s","type":"nominal","scale":{"domain":["Tout","Tin","Tcondenser","Flow rate","Heat flux"],"range":["#f23a3e","#3838f2","#a3373a","#333333","#f5a656"]}}},
 "layer":[
  {"transform":[{"filter":{"field":"s","oneOf":["Tout","Tin","Tcondenser"]}}],"mark":"line","encoding":{"y":{"field":"v","type":"quantitative","scale":{"domain":[0,50],"nice":false},"axis":{"values":[0,5,10,15,20,25,30,35,40,45,50],"title":"Temperature (℃)","orient":"left","titlePadding":14}}}},
  {"transform":[{"filter":{"field":"s","oneOf":["Flow rate","Heat flux"]}}],"mark":"line","encoding":{"y":{"field":"v","type":"quantitative","scale":{"domain":[0,1000],"nice":false},"axis":{"values":[0,200,400,600,800,1000],"format":"d","title":"Heat flux (W/㎡) ,Flow rate (LPM*100)","orient":"right","labelPadding":5,"titlePadding":15}}}}
 ],
 "resolve":{"scale":{"y":"independent"}}}
]
}
